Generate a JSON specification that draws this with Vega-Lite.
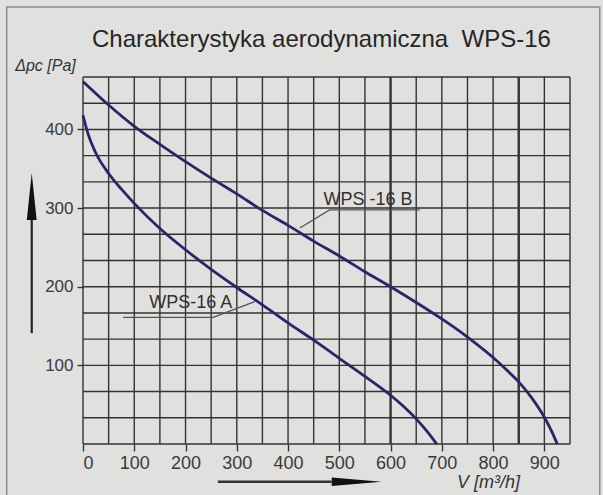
{
  "$schema": "https://vega.github.io/schema/vega-lite/v6.json",
  "autosize": "none",
  "width": 487,
  "height": 367,
  "padding": {"left": 83, "top": 77, "right": 33, "bottom": 51},
  "background": "#e0e0de",
  "title": {
    "text": "Charakterystyka aerodynamiczna \u00a0WPS-16",
    "anchor": "start",
    "frame": "group",
    "dx": 9,
    "offset": -65,
    "baseline": "alphabetic",
    "font": "Liberation Sans",
    "fontSize": 24,
    "fontWeight": "normal",
    "color": "#262626"
  },
  "config": {
    "view": {"stroke": null},
    "font": "Liberation Sans"
  },
  "datasets": {
    "frame": [{"x1": -148.8, "x2": 1008, "y1": 555.7, "y2": -84}],
    "gridx": [
      {"v": 0}, {"v": 50}, {"v": 100}, {"v": 150}, {"v": 200}, {"v": 250}, {"v": 300}, {"v": 350}, {"v": 400}, {"v": 450},
      {"v": 500}, {"v": 550}, {"v": 600}, {"v": 650}, {"v": 700}, {"v": 750}, {"v": 800}, {"v": 850}, {"v": 900}, {"v": 950}
    ],
    "gridy": [
      {"p": 0}, {"p": 33.333}, {"p": 66.667}, {"p": 100}, {"p": 133.333}, {"p": 166.667}, {"p": 200}, {"p": 233.333},
      {"p": 266.667}, {"p": 300}, {"p": 333.333}, {"p": 366.667}, {"p": 400}, {"p": 433.333}, {"p": 466.667}
    ],
    "curves": [
      {"s": "A", "v": 0, "p": 418}, {"s": "A", "v": 10, "p": 394}, {"s": "A", "v": 25, "p": 370}, {"s": "A", "v": 50, "p": 344},
      {"s": "A", "v": 75, "p": 324}, {"s": "A", "v": 100, "p": 306}, {"s": "A", "v": 150, "p": 274}, {"s": "A", "v": 200, "p": 247},
      {"s": "A", "v": 250, "p": 222}, {"s": "A", "v": 300, "p": 199}, {"s": "A", "v": 350, "p": 177}, {"s": "A", "v": 400, "p": 154},
      {"s": "A", "v": 450, "p": 132}, {"s": "A", "v": 500, "p": 109}, {"s": "A", "v": 550, "p": 86}, {"s": "A", "v": 600, "p": 62},
      {"s": "A", "v": 625, "p": 48}, {"s": "A", "v": 650, "p": 32}, {"s": "A", "v": 670, "p": 17}, {"s": "A", "v": 690, "p": 0},
      {"s": "B", "v": 0, "p": 461}, {"s": "B", "v": 50, "p": 431}, {"s": "B", "v": 100, "p": 404}, {"s": "B", "v": 150, "p": 381},
      {"s": "B", "v": 200, "p": 359}, {"s": "B", "v": 250, "p": 338}, {"s": "B", "v": 300, "p": 318}, {"s": "B", "v": 350, "p": 297},
      {"s": "B", "v": 400, "p": 278}, {"s": "B", "v": 450, "p": 258}, {"s": "B", "v": 500, "p": 239}, {"s": "B", "v": 550, "p": 219},
      {"s": "B", "v": 600, "p": 200}, {"s": "B", "v": 650, "p": 180}, {"s": "B", "v": 700, "p": 159}, {"s": "B", "v": 750, "p": 136},
      {"s": "B", "v": 800, "p": 110}, {"s": "B", "v": 825, "p": 95}, {"s": "B", "v": 850, "p": 79}, {"s": "B", "v": 875, "p": 59},
      {"s": "B", "v": 900, "p": 34}, {"s": "B", "v": 915, "p": 15}, {"s": "B", "v": 925, "p": 0}
    ],
    "leaders": [
      {"s": "A", "i": 1, "v": 78, "p": 161.1}, {"s": "A", "i": 2, "v": 254, "p": 161.1}, {"s": "A", "i": 3, "v": 335, "p": 181},
      {"s": "B", "i": 1, "v": 657, "p": 297.6}, {"s": "B", "i": 2, "v": 481, "p": 297.6}, {"s": "B", "i": 3, "v": 423, "p": 274.7}
    ],
    "labels": [
      {"t": "WPS-16 A", "v": 210, "p": 172.3},
      {"t": "WPS -16 B", "v": 556, "p": 303.9}
    ],
    "yshaft": [{"v": -100, "p": 141}, {"v": -100, "p": 285}],
    "yhead": [{"v": -100, "p": 314.7}],
    "xshaft": [{"v": 263, "p": -48}, {"v": 485, "p": -48}],
    "xhead": [{"v": 534, "p": -48}]
  },
  "layer": [
    {
      "data": {"name": "frame"},
      "mark": {"type": "rect", "fill": "#e0e0de", "stroke": "#8c8c8c", "strokeWidth": 1.5},
      "encoding": {
        "x": {"field": "x1", "type": "quantitative", "scale": {"domain": [0, 950], "nice": false, "zero": false}},
        "x2": {"field": "x2"},
        "y": {"field": "y1", "type": "quantitative", "scale": {"domain": [0, 466.667], "nice": false, "zero": false}},
        "y2": {"field": "y2"}
      }
    },
    {
      "data": {"name": "gridx"},
      "mark": {"type": "rule", "color": "#333333"},
      "encoding": {
        "x": {"field": "v", "type": "quantitative"},
        "strokeWidth": {"condition": {"test": "datum.v == 600 || datum.v == 850", "value": 2.4}, "value": 1.4}
      }
    },
    {
      "data": {"name": "gridy"},
      "mark": {"type": "rule", "color": "#333333", "strokeWidth": 1.4},
      "encoding": {
        "y": {"field": "p", "type": "quantitative"}
      }
    },
    {
      "data": {"name": "leaders"},
      "mark": {"type": "line", "color": "#555555", "strokeWidth": 1.3},
      "encoding": {
        "x": {"field": "v", "type": "quantitative"},
        "y": {"field": "p", "type": "quantitative"},
        "detail": {"field": "s"},
        "order": {"field": "i"}
      }
    },
    {
      "data": {"name": "curves"},
      "mark": {"type": "line", "color": "#28256a", "strokeWidth": 2.8, "interpolate": "monotone"},
      "encoding": {
        "x": {"field": "v", "type": "quantitative",
          "axis": {
            "zindex": 1,
            "values": [0, 100, 200, 300, 400, 500, 600, 700, 800, 900],
            "domain": false, "grid": false,
            "tickSize": 7, "tickColor": "#333333", "tickWidth": 1.4,
            "labelPadding": 3, "labelFontSize": 18, "labelColor": "#3a3a3a", "labelFont": "Liberation Sans",
            "title": "V [m³/h]", "titleFontStyle": "italic", "titleFontWeight": "normal", "titleFontSize": 18,
            "titleColor": "#333333", "titleX": 405, "titleY": 43, "titleAlign": "center", "titleBaseline": "alphabetic",
            "titleFont": "Liberation Sans"
          }
        },
        "y": {"field": "p", "type": "quantitative",
          "axis": {
            "zindex": 1,
            "values": [100, 200, 300, 400],
            "domain": false, "grid": false,
            "tickSize": 6, "tickColor": "#333333", "tickWidth": 1.4,
            "labelPadding": 4, "labelFontSize": 17, "labelColor": "#3a3a3a", "labelFont": "Liberation Sans",
            "title": "Δpc [Pa]", "titleFontStyle": "italic", "titleFontWeight": "normal", "titleFontSize": 16,
            "titleColor": "#333333", "titleAngle": 0, "titleX": -38, "titleY": -7, "titleAlign": "center", "titleBaseline": "alphabetic",
            "titleFont": "Liberation Sans"
          }
        },
        "detail": {"field": "s"}
      }
    },
    {
      "data": {"name": "labels"},
      "mark": {"type": "text", "align": "center", "baseline": "alphabetic", "fontSize": 18, "font": "Liberation Sans", "color": "#303030"},
      "encoding": {
        "x": {"field": "v", "type": "quantitative"},
        "y": {"field": "p", "type": "quantitative"},
        "text": {"field": "t"}
      }
    },
    {
      "data": {"name": "yshaft"},
      "mark": {"type": "line", "color": "#222222", "strokeWidth": 2.2},
      "encoding": {
        "x": {"field": "v", "type": "quantitative"},
        "y": {"field": "p", "type": "quantitative"}
      }
    },
    {
      "data": {"name": "xshaft"},
      "mark": {"type": "line", "color": "#333333", "strokeWidth": 2.5},
      "encoding": {
        "x": {"field": "v", "type": "quantitative"},
        "y": {"field": "p", "type": "quantitative"}
      }
    },
    {
      "data": {"name": "yhead"},
      "mark": {"type": "point", "shape": "M0,-1L0.21,1L-0.21,1Z", "filled": true, "size": 2209, "color": "#111111", "opacity": 1},
      "encoding": {
        "x": {"field": "v", "type": "quantitative"},
        "y": {"field": "p", "type": "quantitative"}
      }
    },
    {
      "data": {"name": "xhead"},
      "mark": {"type": "point", "shape": "M1,0L-1,-0.17L-1,0.17Z", "filled": true, "size": 2500, "color": "#111111", "opacity": 1},
      "encoding": {
        "x": {"field": "v", "type": "quantitative"},
        "y": {"field": "p", "type": "quantitative"}
      }
    }
  ]
}
